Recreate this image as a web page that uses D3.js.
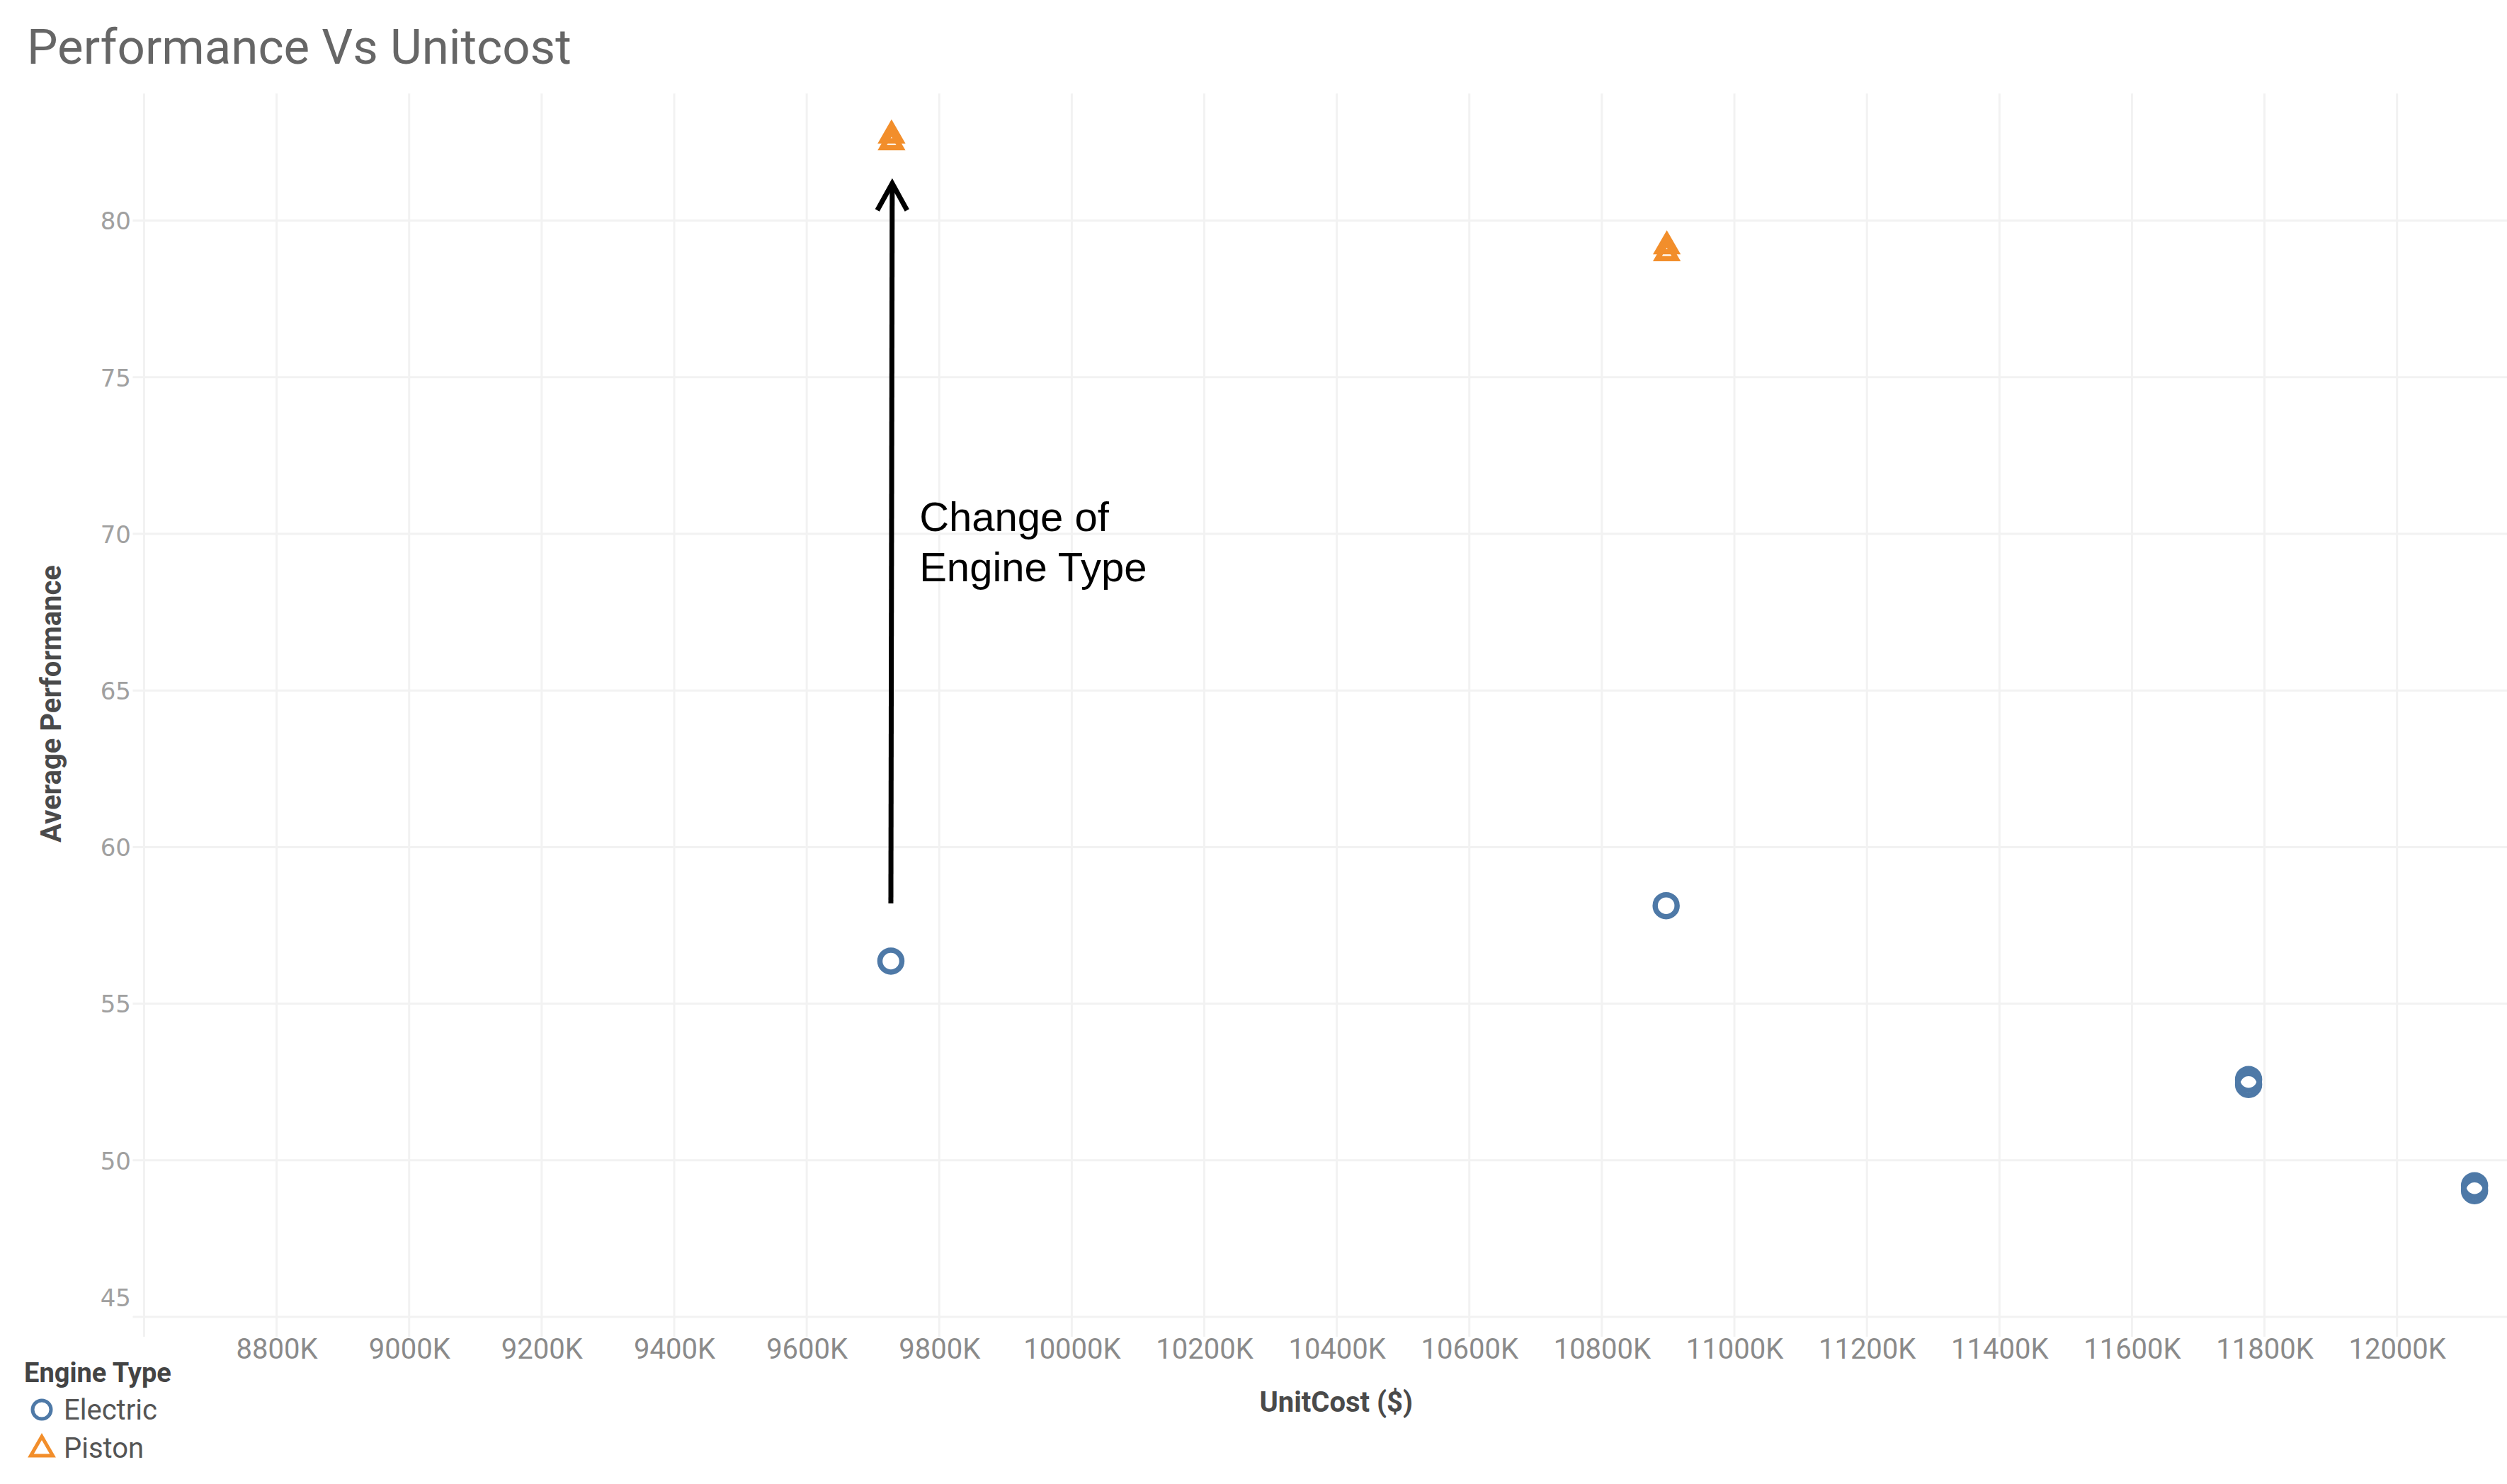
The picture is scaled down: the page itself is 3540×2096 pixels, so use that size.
<!DOCTYPE html>
<html>
<head>
<meta charset="utf-8">
<script src="https://cdn.jsdelivr.net/npm/d3@7"></script>
<style>
  html, body { margin: 0; padding: 0; background: #ffffff; }
  svg { display: block; }
</style>
</head>
<body>
<svg id="chart" width="3540" height="2096"></svg>
<script>
// ---------------- data ----------------
const electricCost = [9727, 10897, 11776, 11776, 12117, 12117];   // UnitCost in K$
const electricPerf = [56.36, 58.13, 52.58, 52.42, 49.19, 49.03];
const pistonCost   = [9728, 9728, 10898, 10898];
const pistonPerf   = [82.72, 82.5, 79.18, 78.96];
const xTickValues  = [8800, 9000, 9200, 9400, 9600, 9800, 10000, 10200, 10400, 10600, 10800, 11000, 11200, 11400, 11600, 11800, 12000];
const xGridValues  = [8600].concat(xTickValues);
const yTickValues  = [45, 50, 55, 60, 65, 70, 75, 80];
const legendItems  = ["Electric", "Piston"];
const arrowFrom    = {cost: 9727, perf: 58.2};
const arrowTo      = {cost: 9729, perf: 81.28};
const annotLines   = ["Change of", "Engine Type"];
const annotAt      = {cost: 9770, perf: 70.09};

// ---------------- layout ----------------
const W = 3540, H = 2096;
const plot = {left: 203.5, right: 3540, top: 132, bottom: 1860};
const x = d3.scaleLinear().domain([8600, 12166]).range([plot.left, plot.right]);
const y = d3.scaleLinear().domain([45, 84.06]).range([plot.bottom, plot.top]);

const blue = "#4e79a7", orange = "#f28e2b";
const svg = d3.select("#chart");
svg.append("rect").attr("width", W).attr("height", H).attr("fill", "#fff");

// title
svg.append("text")
  .attr("x", 38).attr("y", 90)
  .attr("font-family", "Roboto, 'Open Sans', sans-serif")
  .attr("font-size", 69)
  .attr("fill", "#666")
  .text("Performance Vs Unitcost");

// gridlines
const grid = svg.append("g");
grid.selectAll("line.v").data(xGridValues).join("line")
  .attr("class", "v")
  .attr("x1", d => x(d)).attr("x2", d => x(d))
  .attr("y1", plot.top).attr("y2", plot.bottom + 28)
  .attr("stroke", "#f2f2f2").attr("stroke-width", 3);
grid.selectAll("line.h").data(yTickValues).join("line")
  .attr("class", "h")
  .attr("x1", plot.left - 16).attr("x2", plot.right)
  .attr("y1", d => y(d)).attr("y2", d => y(d))
  .attr("stroke", "#f2f2f2").attr("stroke-width", 3);

// x axis labels
const xAxis = d3.axisBottom(x).tickValues(xTickValues).tickSize(0).tickPadding(0)
  .tickFormat(d => d + "K");
const gx = svg.append("g").attr("transform", `translate(0,${plot.bottom})`).call(xAxis);
gx.select(".domain").remove();
gx.selectAll("text")
  .attr("y", 59).attr("dy", 0)
  .attr("font-family", "Roboto, sans-serif")
  .attr("font-size", 40)
  .attr("fill", "#8a8a8a");

// y axis labels
const yAxis = d3.axisLeft(y).tickValues(yTickValues).tickSize(0).tickPadding(0);
const gy = svg.append("g").attr("transform", `translate(185,0)`).call(yAxis);
gy.select(".domain").remove();
gy.selectAll("text")
  .attr("x", 0)
  .attr("dy", d => d === 45 ? "-0.45em" : "0.36em")
  .attr("font-family", "'DejaVu Sans', sans-serif")
  .attr("font-size", 34)
  .attr("fill", "#a0a0a0");

// axis titles
svg.append("text")
  .attr("x", (plot.left + plot.right) / 2 + 15).attr("y", 1994)
  .attr("text-anchor", "middle")
  .attr("font-family", "Roboto, sans-serif")
  .attr("font-weight", 700)
  .attr("font-size", 40)
  .attr("fill", "#4a4a4a")
  .text("UnitCost ($)");
svg.append("text")
  .attr("transform", `translate(86,${(plot.top + plot.bottom) / 2 - 2}) rotate(-90)`)
  .attr("text-anchor", "middle")
  .attr("font-family", "Roboto, sans-serif")
  .attr("font-weight", 700)
  .attr("font-size", 40)
  .attr("fill", "#4a4a4a")
  .text("Average Performance");

// annotation arrow
const defs = svg.append("defs");
defs.append("marker")
  .attr("id", "head").attr("markerUnits", "userSpaceOnUse")
  .attr("viewBox", "-50 -30 60 60").attr("refX", 0).attr("refY", 0)
  .attr("markerWidth", 60).attr("markerHeight", 60).attr("orient", "auto")
  .append("path")
  .attr("d", "M-38,-21 L0,0 L-38,21")
  .attr("fill", "none").attr("stroke", "#000").attr("stroke-width", 7)
  .attr("stroke-linejoin", "miter");
svg.append("line")
  .attr("x1", x(arrowFrom.cost)).attr("y1", y(arrowFrom.perf))
  .attr("x2", x(arrowTo.cost)).attr("y2", y(arrowTo.perf) + 4)
  .attr("stroke", "#000").attr("stroke-width", 7)
  .attr("marker-end", "url(#head)");
const annot = svg.append("text")
  .attr("x", x(annotAt.cost)).attr("y", y(annotAt.perf))
  .attr("font-family", "'Liberation Sans', Arial, sans-serif")
  .attr("font-size", 58)
  .attr("fill", "#000");
annot.selectAll("tspan").data(annotLines).join("tspan")
  .attr("x", x(annotAt.cost))
  .attr("dy", (d, i) => i === 0 ? 0 : 71)
  .text(d => d);

// marks
const triPath = d3.symbol().type(d3.symbolTriangle).size(300);
const electric = electricCost.map((c, i) => ({c, p: electricPerf[i]}));
const piston = pistonCost.map((c, i) => ({c, p: pistonPerf[i]}));

svg.append("g").selectAll("circle").data(electric).join("circle")
  .attr("cx", d => x(d.c)).attr("cy", d => y(d.p)).attr("r", 15.5)
  .attr("fill", "none").attr("stroke", blue).attr("stroke-width", 7.5);

svg.append("g").selectAll("path").data(piston).join("path")
  .attr("transform", d => `translate(${x(d.c)},${y(d.p)})`)
  .attr("d", triPath())
  .attr("fill", "none").attr("stroke", orange).attr("stroke-width", 7.5);

// legend
const lg = svg.append("g");
lg.append("text")
  .attr("x", 34).attr("y", 1952)
  .attr("font-family", "Roboto, sans-serif")
  .attr("font-weight", 700)
  .attr("font-size", 38)
  .attr("fill", "#444")
  .text("Engine Type");
const items = lg.selectAll("g.item").data(legendItems).join("g")
  .attr("class", "item")
  .attr("transform", (d, i) => `translate(0,${1991 + i * 54})`);
items.each(function(d) {
  const g = d3.select(this);
  if (d === "Electric") {
    g.append("circle").attr("cx", 59).attr("cy", 0).attr("r", 13)
      .attr("fill", "none").attr("stroke", blue).attr("stroke-width", 5);
  } else {
    g.append("path").attr("transform", "translate(59,2)")
      .attr("d", d3.symbol().type(d3.symbolTriangle).size(420)())
      .attr("fill", "none").attr("stroke", orange).attr("stroke-width", 5);
  }
  g.append("text").attr("x", 90).attr("y", 0).attr("dy", "0.36em")
    .attr("font-family", "Roboto, sans-serif")
    .attr("font-size", 40)
    .attr("fill", "#555")
    .text(d);
});
</script>
</body>
</html>
